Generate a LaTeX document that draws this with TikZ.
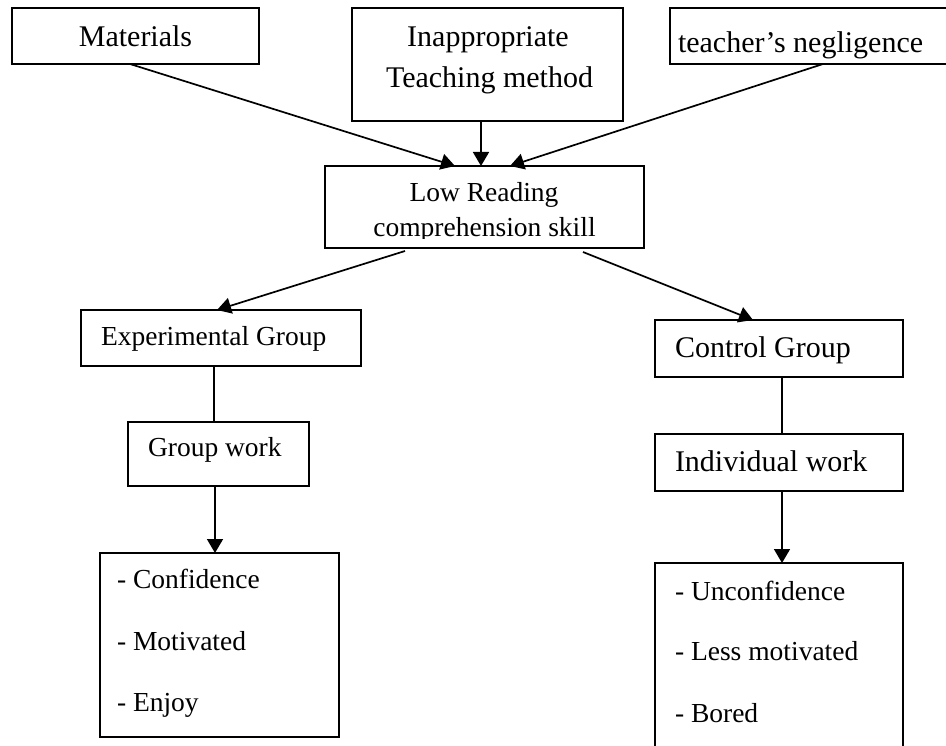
\documentclass[tikz,border=0pt]{standalone}
\usepackage{fontspec}
\setmainfont{Liberation Serif}
\usetikzlibrary{arrows.meta,calc}
\begin{document}
\begin{tikzpicture}[x=1pt,y=-1pt,
  box/.style={draw, line width=1.8pt, inner sep=0pt, outer sep=0pt},
  big/.style={font=\fontsize{30}{36}\selectfont, inner sep=0pt, outer sep=0pt},
  sml/.style={font=\fontsize{27.5}{33}\selectfont, inner sep=0pt, outer sep=0pt},
  conn/.style={line width=1.7pt},
  arr/.style={conn, -{Triangle[length=14pt,width=16pt]}}]
\useasboundingbox (0,0) rectangle (946,746);
\clip (0,0) rectangle (946,746);
% boxes
\node[box, minimum width=247, minimum height=56]  (mat)   at (135.5,36)  {};
\node[box, minimum width=271, minimum height=113] (inap)  at (487.5,64.5) {};
\node[box, minimum width=290, minimum height=56]  (teach) at (815,36)    {};
\node[box, minimum width=319, minimum height=82]  (low)   at (484.5,207) {};
\node[box, minimum width=280, minimum height=56]  (exp)   at (221,338)   {};
\node[box, minimum width=181, minimum height=64]  (grp)   at (218.5,454) {};
\node[box, minimum width=248, minimum height=57]  (ctrl)  at (779,348.5) {};
\node[box, minimum width=248, minimum height=57]  (ind)   at (779,462.5) {};
\node[box, minimum width=239, minimum height=184] (conf)  at (219.5,645) {};
\node[box, minimum width=248, minimum height=207] (unc)   at (779,666.5) {};
% texts
\node[big, anchor=base] (tmat) at (135.5,47) {Materials};
\node[big, anchor=base] (tinap1) at (488,46.7) {Inappropriate};
\node[big, anchor=base] (tinap2) at (489.5,87.3) {Teaching method};
\node[big, anchor=base west] (tteach) at (678,53) {teacher’s negligence};
\begin{scope}
  \clip (325,166) rectangle (644,239);
  \node[sml, anchor=base] (tlow1) at (484,201.7) {Low Reading};
  \node[sml, anchor=base] (tlow2) at (484.5,236.7) {comprehension skill};
\end{scope}
\node[sml, anchor=base west] (texp) at (101,345) {Experimental Group};
\node[sml, anchor=base west] (tgrp) at (148,456.7) {Group work};
\node[big, anchor=base west] (tctrl) at (675,358) {Control Group};
\node[big, anchor=base west] (tind) at (675,471.7) {Individual work};
\node[sml, anchor=base west] (c1) at (117,588) {- Confidence};
\node[sml, anchor=base west] (c2) at (117,650.5) {- Motivated};
\node[sml, anchor=base west] (c3) at (117,711) {- Enjoy};
\node[sml, anchor=base west] (u1) at (675,600) {- Unconfidence};
\node[sml, anchor=base west] (u2) at (675,660) {- Less motivated};
\node[sml, anchor=base west] (u3) at (675,722.5) {- Bored};
% connectors
\draw[arr] ([xshift=-5.5]mat.south) -- ([xshift=-29.5]low.north);
\draw[arr] ([xshift=-6.5]inap.south) -- ([xshift=-3.5]low.north);
\draw[arr] ([xshift=8]teach.south) -- ([xshift=25.5]low.north);
\draw[arr] ([xshift=-79.5,yshift=-3]low.south) -- ([xshift=-4]exp.north);
\draw[arr] ([xshift=98.5,yshift=-4]low.south) -- ([xshift=-26]ctrl.north);
\draw[conn] ([xshift=-7]exp.south) -- ([xshift=-4.5]grp.north);
\draw[arr] ([xshift=-3.5]grp.south) -- ([xshift=-4.5]conf.north);
\draw[conn] ([xshift=3]ctrl.south) -- ([xshift=3]ind.north);
\draw[arr] ([xshift=3]ind.south) -- ([xshift=3]unc.north);
\end{tikzpicture}
\end{document}
